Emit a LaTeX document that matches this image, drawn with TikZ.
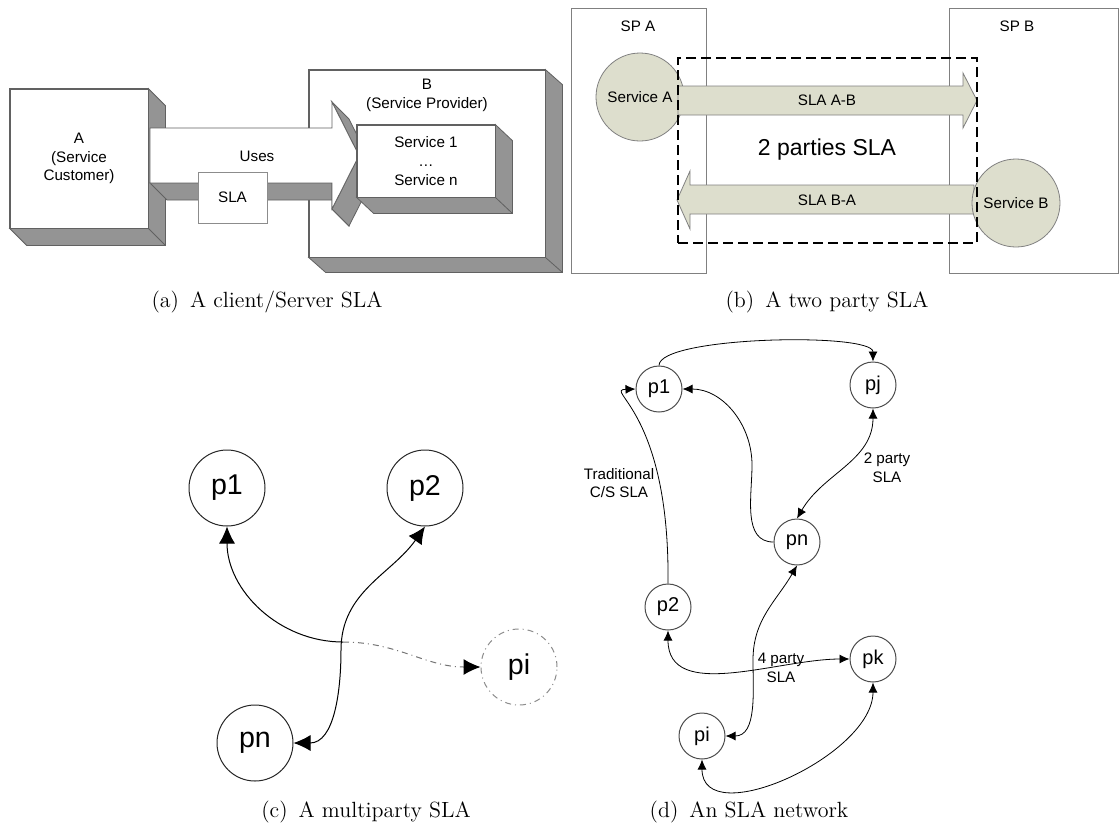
\documentclass[tikz,border=0pt]{standalone}
\usepackage{fontspec}
\newfontfamily\arialfont{Liberation Sans}
\usetikzlibrary{arrows.meta}
\definecolor{slagreen}{RGB}{221,222,205}
% grey sides of a 3D box: #1 node, #2 depth
\newcommand{\extrudebox}[2]{%
  \filldraw[boxside] (#1.north east) -- ++(#2) -- ([shift={(#2)}]#1.south east) -- ([shift={(#2)}]#1.south west) -- (#1.south west) -- (#1.south east) -- cycle;
  \draw[boxedge] (#1.south east) -- ++(#2);
  \draw[boxedge] (#1.south west) rectangle (#1.north east);}
\tikzset{
  sansnote/.style={font=\arialfont\fontsize{7.6}{9.4}\selectfont},
  boxside/.style={fill=black!42,draw=black!62,line width=0.4pt},
  boxedge/.style={draw=black!62,line width=0.4pt},
  frontbox/.style={sansnote,draw=black!62,fill=white,line width=0.4pt,inner sep=0pt,align=center},
  spbox/.style={draw=black!50,line width=0.4pt,inner sep=0pt},
  servicenode/.style={sansnote,circle,draw=black!50,fill=slagreen,minimum size=44pt,inner sep=0pt},
  slashape/.style={draw=black!50,fill=slagreen,line width=0.4pt},
  bigparty/.style={circle,draw=black!85,line width=0.5pt,minimum size=38pt,inner sep=0pt,font=\arialfont\fontsize{14.3}{16}\selectfont},
  smallparty/.style={circle,draw=black!70,line width=0.5pt,minimum size=23pt,inner sep=0pt,font=\arialfont\fontsize{10}{12}\selectfont},
  bigtip/.tip={Latex[length=8.5pt,width=8pt]},
  smalltip/.tip={Latex[length=5pt,width=4.5pt]},
  caption/.style={font=\fontsize{11}{13}\selectfont}
}
\begin{document}
\begin{tikzpicture}[x=0.5pt,y=-0.5pt]
\useasboundingbox (0,0) rectangle (1120,826);
%% (a) client / server
\node[frontbox,minimum width=69pt,minimum height=69.5pt] (cust) at (79,158.5) {A\\(Service\\Customer)};
\extrudebox{cust}{17,17}
\node[frontbox,minimum width=118pt,minimum height=93.5pt] (prov) at (427,163.5) {};
\extrudebox{prov}{17,15}
\node[sansnote,align=center,inner sep=0pt] (provtxt) at (427,95.5) {B\\(Service Provider)};
% the block arrow "Uses"
\filldraw[boxside] (150,183) -- (332,183) -- (349,200) -- (167,200) -- cycle;
\filldraw[boxside] (332,183) -- (332,209) -- (349,226) -- (349,200) -- cycle;
\filldraw[boxside] (332,209) -- (359,155.5) -- (376,172.5) -- (349,226) -- cycle;
\filldraw[boxside] (332,102) -- (359,155.5) -- (376,172.5) -- (349,119) -- cycle;
\filldraw[boxedge,fill=white] (150,128) -- (332,128) -- (332,102) -- (359,155.5) -- (332,209) -- (332,183) -- (150,183) -- cycle;
\node[frontbox,minimum width=69pt,minimum height=36pt] (svc) at (426,161) {Service 1\\…\\Service n};
\extrudebox{svc}{17,16}
\node[frontbox,draw=black!45,minimum width=34.5pt,minimum height=25.5pt] (sla) at (232.5,197.5) {SLA};
\node[sansnote] (uses) at (257,156) {Uses};
%% (b) two parties
\node[spbox,minimum width=67.5pt,minimum height=132.5pt] (spa) at (638.5,140.5) {};
\node[spbox,minimum width=84.5pt,minimum height=132.5pt] (spb) at (1033.5,140.5) {};
\node[sansnote] (spalbl) at (638,26) {SP A};
\node[sansnote] (spblbl) at (1017,26) {SP B};
\node[servicenode] (srva) at (640,97) {Service A};
\filldraw[slashape] (678,86) -- (963,86) -- (963,73) -- (977,100.5) -- (963,128) -- (963,115) -- (678,115) -- cycle;
\filldraw[slashape] (974,185) -- (690,185) -- (690,171) -- (677,200) -- (690,229) -- (690,214) -- (974,214) -- cycle;
\node[servicenode] (srvb) at (1016,203) {Service B};
\node[sansnote] (slaab) at (827,100) {SLA A-B};
\node[sansnote] (slaba) at (827,200) {SLA B-A};
\node[font=\arialfont\fontsize{11.5}{13}\selectfont] (twoparty) at (827,150) {2 parties SLA};
\node[draw,line width=0.6pt,dash pattern=on 5pt off 2.5pt,minimum width=149.5pt,minimum height=92.5pt] (slascope) at (827.5,150.5) {};
%% (c) multiparty
\node[bigparty] (mp1) at (227,488) {p1};
\node[bigparty] (mp2) at (425,488) {p2};
\node[bigparty,draw=black!45,dash dot] (mpi) at (519,667) {pi};
\node[bigparty] (mpn) at (255,743) {pn};
\coordinate (mjoin) at (343,642);
\draw[bigtip-,line width=0.5pt] (mp1.south) to[out=-90,in=180] (mjoin);
\draw[-{Latex[length=8.5pt,width=8pt,black]},line width=0.5pt,black!55,dash dot] (mjoin) to[out=0,in=180] (mpi.west);
\draw[bigtip-bigtip,line width=0.5pt] (mp2.south) to[out=-125,in=90] (341,650) to[out=-90,in=0] (mpn.east);
%% (d) network
\node[smallparty] (np1) at (659,389) {p1};
\node[smallparty] (npj) at (873,385) {pj};
\node[smallparty] (npn) at (797,542) {pn};
\node[smallparty] (np2) at (668,607) {p2};
\node[smallparty] (npk) at (873,659) {pk};
\node[smallparty] (npi) at (702,736) {pi};
\draw[-smalltip,line width=0.4pt] (np1.north) to[out=90,in=90,looseness=0.35] (npj.north);
\draw[-smalltip,line width=0.4pt] (npn.west) to[out=180,in=-90] (752,465) to[out=90,in=0] (np1.east);
\draw[-smalltip,line width=0.4pt] (np2.north) .. controls (670,410) and (603,390) .. (np1.west);
\draw[smalltip-smalltip,line width=0.4pt] (npj.south) to[out=-90,in=60] (npn.north);
\draw[smalltip-smalltip,line width=0.4pt] (npn.south) to[out=-120,in=90] (753,660) to[out=-90,in=0] (npi.east);
\draw[smalltip-smalltip,line width=0.4pt] (np2.south) to[out=-90,in=180] (npk.west);
\draw[smalltip-smalltip,line width=0.4pt] (npi.south) to[out=-90,in=-90] (npk.south);
\node[sansnote,align=center] (tradlbl) at (619,483) {Traditional\\C/S SLA};
\node[sansnote,align=center] (twolbl) at (887,468) {2 party\\SLA};
\node[sansnote,align=center] (fourlbl) at (781,668) {4 party\\SLA};
%% captions
\node[caption] (capa) at (267,302) {(a)\hspace{0.5em}A client/Server SLA};
\node[caption] (capb) at (827,302) {(b)\hspace{0.5em}A two party SLA};
\node[caption] (capc) at (366,812) {(c)\hspace{0.5em}A multiparty SLA};
\node[caption] (capd) at (749,812) {(d)\hspace{0.5em}An SLA network};
\end{tikzpicture}
\end{document}
